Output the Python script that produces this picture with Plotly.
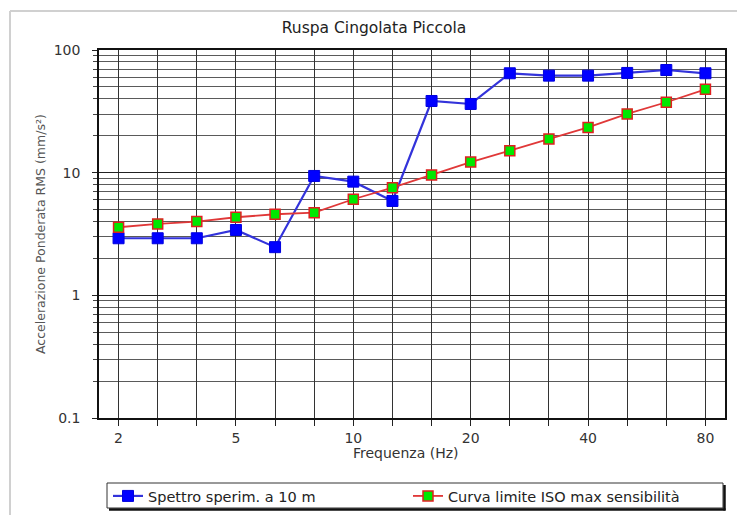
import plotly.graph_objects as go

freq_labels = ["2", "3", "4", "5", "6.3", "8", "10", "12.5", "16", "20",
               "25", "31.5", "40", "50", "63", "80"]
shown_ticks = ["2", "5", "10", "20", "40", "80"]
spettro = [2.92, 2.92, 2.92, 3.41, 2.47, 9.4, 8.45, 5.88, 38.4, 36.3,
           64.6, 61.8, 61.8, 65.0, 68.7, 64.6]
curva_iso = [3.59, 3.82, 3.99, 4.33, 4.58, 4.72, 6.07, 7.55, 9.58, 12.2,
             15.1, 18.8, 23.4, 30.1, 37.5, 47.8]
y_tick_vals = [0.1, 1, 10, 100]
y_tick_text = ["0.1", "1", "10", "100"]

# page body has an 8px margin: reference pixel coords -> figure coords
OFF = 8
W, H = 745 - OFF, 515 - OFF
L, R, T, B = 99 - OFF, 725 - OFF, 50 - OFF, 418 - OFF
PW, PH = R - L, B - T
FONT = "DejaVu Sans, Verdana, sans-serif"


def fx(x):  # reference x -> container fraction
    return (x - OFF) / W


def fy(y):  # reference y -> container fraction (from bottom)
    return 1 - (y - OFF) / H


def px(x):  # reference x -> paper fraction
    return (x - OFF - L) / PW


def py(y):
    return (B - (y - OFF)) / PH


fig = go.Figure()
fig.add_trace(go.Scatter(
    x=freq_labels, y=spettro, mode="lines+markers",
    name="Spettro sperim. a 10 m", legend="legend",
    line=dict(color="#3333da", width=2.2),
    marker=dict(symbol="square", size=11, color="#0000ff",
                line=dict(color="#0000e0", width=1)),
))
fig.add_trace(go.Scatter(
    x=freq_labels, y=curva_iso, mode="lines+markers",
    name="Curva limite ISO max sensibilità", legend="legend2",
    line=dict(color="#e03838", width=1.8),
    marker=dict(symbol="square", size=10, color="#00e800",
                line=dict(color="#e02020", width=1.5)),
))

minor_vals = []
for dec in [0.1, 1, 10]:
    for k in range(2, 10):
        minor_vals.append(dec * k)

leg_common = dict(orientation="h", xref="container", yref="container",
                  yanchor="middle", xanchor="left",
                  bgcolor="rgba(0,0,0,0)", borderwidth=0,
                  font=dict(family=FONT, size=14.5, color="#222"))

fig.update_layout(
    width=W, height=H,
    paper_bgcolor="white", plot_bgcolor="white",
    margin=dict(l=L, r=W - R, t=T, b=H - B, autoexpand=False),
    font=dict(family=FONT, size=14, color="#333"),
    title=dict(text="Ruspa Cingolata Piccola", x=fx(374), xref="container",
               y=fy(28), yref="container", xanchor="center", yanchor="middle",
               font=dict(family=FONT, size=15.5, color="#222")),
    showlegend=True,
    legend=dict(x=fx(108), y=fy(496), **leg_common),
    legend2=dict(x=fx(408), y=fy(496), **leg_common),
    xaxis=dict(
        type="category", categoryorder="array", categoryarray=freq_labels,
        range=[-0.5, len(freq_labels) - 0.5], automargin=False,
        tickmode="array", tickvals=freq_labels,
        ticktext=[t if t in shown_ticks else "" for t in freq_labels],
        showgrid=True, gridcolor="#333", gridwidth=1.2,
        showline=True, linecolor="#111", linewidth=1.5, mirror=True,
        ticks="outside", ticklen=6, tickcolor="#222",
        tickfont=dict(family=FONT, size=14, color="#333"),
        zeroline=False,
    ),
    yaxis=dict(
        type="log", range=[-1, 2], automargin=False,
        tickmode="array", tickvals=y_tick_vals, ticktext=y_tick_text,
        showgrid=True, gridcolor="#222", gridwidth=1.3,
        showline=True, linecolor="#111", linewidth=1.5, mirror=True,
        ticks="outside", ticklen=5, tickcolor="#222", ticklabelstandoff=9,
        tickfont=dict(family=FONT, size=14, color="#333"),
        minor=dict(tickvals=minor_vals, showgrid=True, gridcolor="#5a5a5a",
                   gridwidth=1, ticks="outside", ticklen=4, tickcolor="#444"),
        zeroline=False,
    ),
    annotations=[
        dict(text="Frequenza (Hz)", xref="paper", yref="paper",
             x=px(406), y=py(453), showarrow=False,
             xanchor="center", yanchor="middle",
             font=dict(family=FONT, size=14, color="#333")),
        dict(text="Accelerazione Ponderata RMS (mm/s²)", xref="paper", yref="paper",
             x=px(40), y=py(234), showarrow=False, textangle=-90,
             xanchor="center", yanchor="middle",
             font=dict(family=FONT, size=12.5, color="#555")),
    ],
    shapes=[
        # outer frame (top and left edges only)
        dict(type="line", xref="paper", yref="paper",
             x0=px(10), x1=px(10), y0=py(515), y1=py(11),
             line=dict(color="#d0d0d0", width=2), layer="below"),
        dict(type="line", xref="paper", yref="paper",
             x0=px(10), x1=px(745), y0=py(11), y1=py(11),
             line=dict(color="#d0d0d0", width=2), layer="below"),
        # legend box
        dict(type="rect", xref="paper", yref="paper",
             x0=px(107), x1=px(723), y0=py(508), y1=py(483),
             line=dict(color="#333", width=1)),
        dict(type="line", xref="paper", yref="paper",
             x0=px(724.5), x1=px(724.5), y0=py(510.5), y1=py(485),
             line=dict(color="#111", width=2.5)),
        dict(type="line", xref="paper", yref="paper",
             x0=px(109), x1=px(725.5), y0=py(509.5), y1=py(509.5),
             line=dict(color="#111", width=2.5)),
    ],
)

fig.write_html("out.html")
